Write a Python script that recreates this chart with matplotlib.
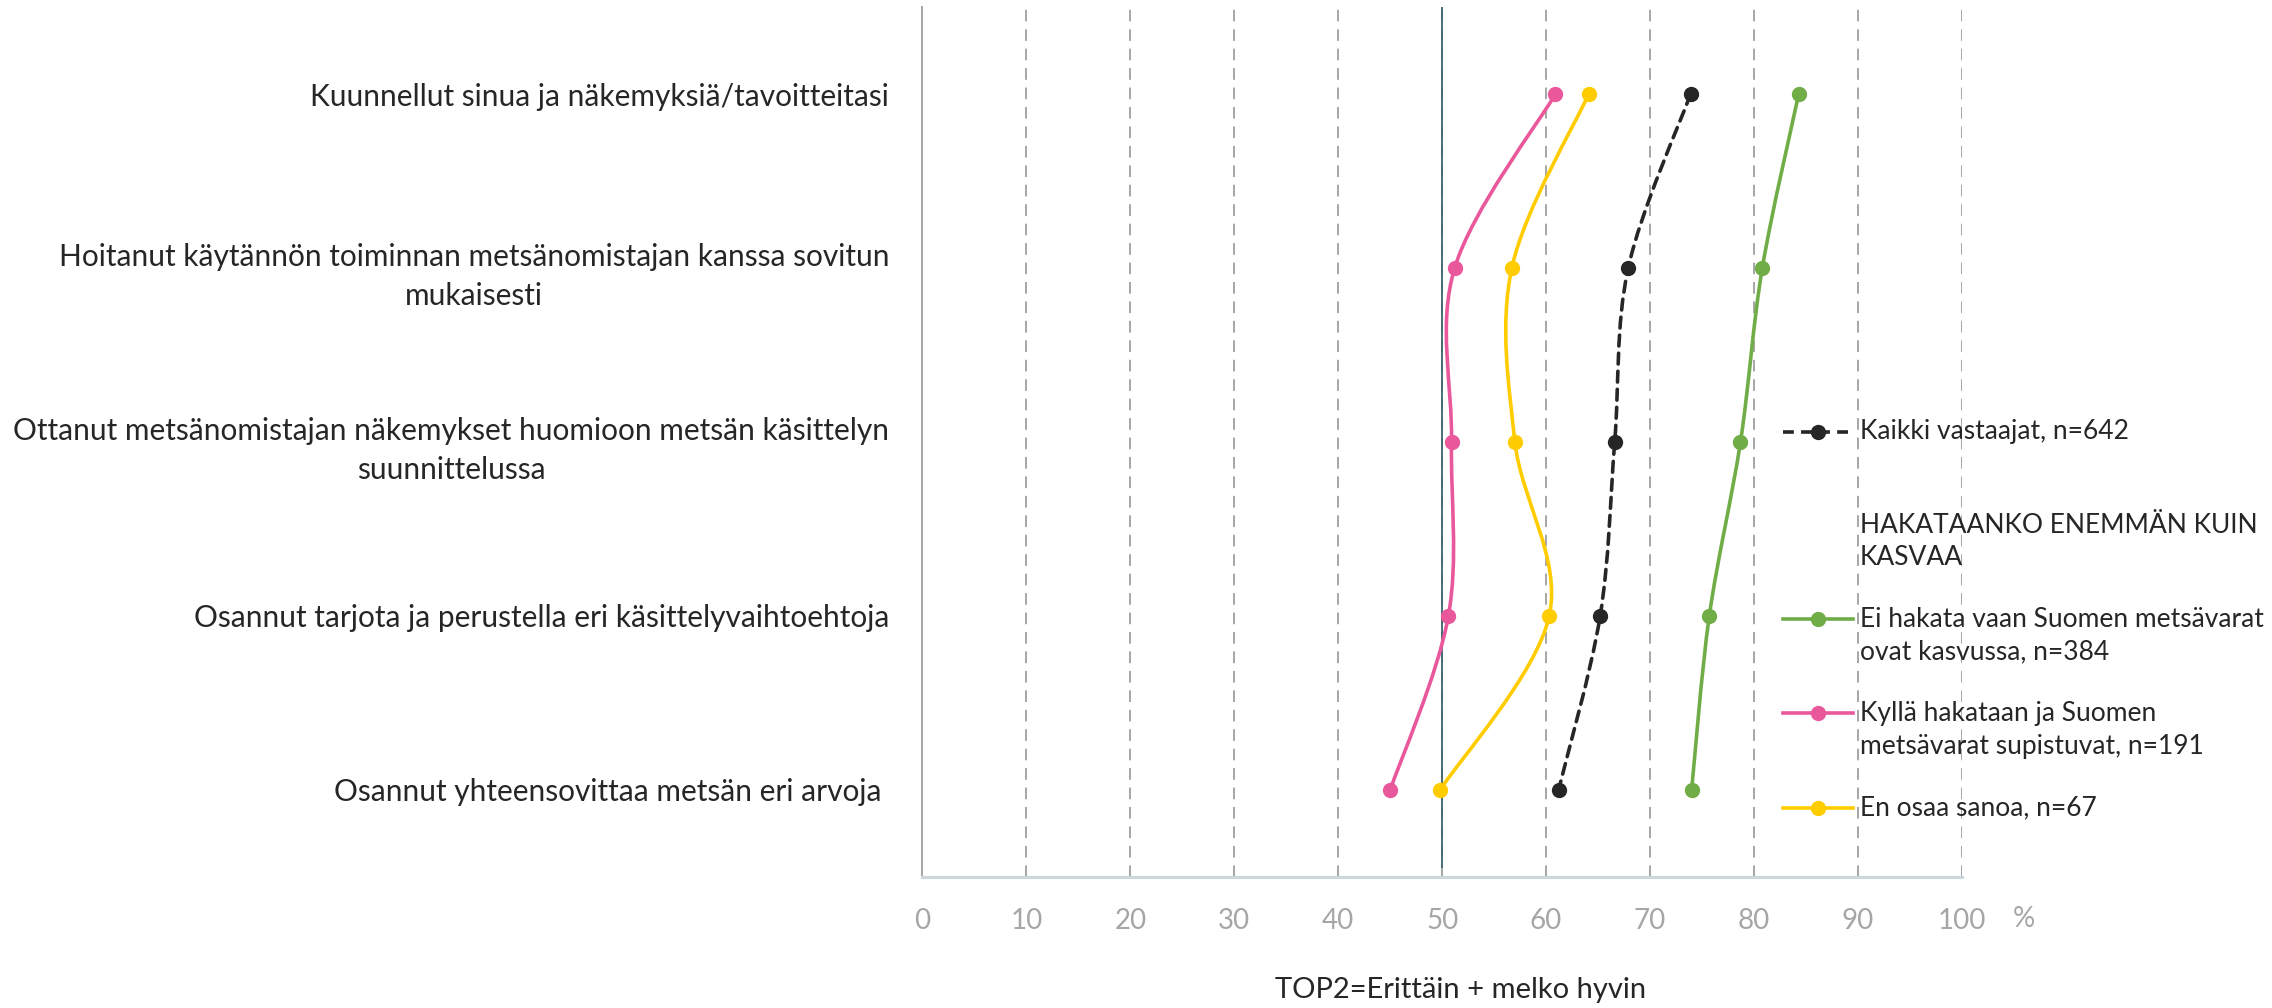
import numpy as np
import matplotlib
matplotlib.use("Agg")
import matplotlib.pyplot as plt
from matplotlib.path import Path
from matplotlib.patches import PathPatch
from matplotlib.lines import Line2D

plt.rcParams['font.family'] = ['Lato', 'DejaVu Sans']

categories = [
    "Kuunnellut sinua ja näkemyksiä/tavoitteitasi",
    "Hoitanut käytännön toiminnan metsänomistajan kanssa sovitun\nmukaisesti",
    "Ottanut metsänomistajan näkemykset huomioon metsän käsittelyn\nsuunnittelussa",
    "Osannut tarjota ja perustella eri käsittelyvaihtoehtoja",
    "Osannut yhteensovittaa metsän eri arvoja ",
]
kaikki = [73.9, 67.9, 66.6, 65.2, 61.2]
ei_hakata = [84.3, 80.8, 78.7, 75.7, 74.0]
kylla_hakataan = [60.9, 51.2, 50.9, 50.6, 45.0]
en_osaa = [64.1, 56.7, 57.0, 60.3, 49.8]

series_names = ["Kaikki vastaajat, n=642",
                "Ei hakata vaan Suomen metsävarat\novat kasvussa, n=384",
                "Kyllä hakataan ja Suomen\nmetsävarat supistuvat, n=191",
                "En osaa sanoa, n=67"]
group_title = "HAKATAANKO ENEMMÄN KUIN\nKASVAA"
xticks = list(range(0, 101, 10))

c_black = "#262626"
c_green = "#70ad47"
c_pink = "#ea589c"
c_yellow = "#ffcc00"


def smooth_path(xs, ys):
    # Excel-style smoothed line: Catmull-Rom converted to cubic Bezier
    pts = np.column_stack([xs, ys])
    verts = [pts[0]]
    codes = [Path.MOVETO]
    n = len(pts)
    for i in range(n - 1):
        p0 = pts[max(i - 1, 0)]
        p1 = pts[i]
        p2 = pts[i + 1]
        p3 = pts[min(i + 2, n - 1)]
        verts += [p1 + (p2 - p0) / 6, p2 - (p3 - p1) / 6, p2]
        codes += [Path.CURVE4] * 3
    return Path(verts, codes)


fig = plt.figure(figsize=(22.72, 10.08), dpi=100)
ax = fig.add_axes([0.406, 0.13, 0.4575, 0.863])

ypos = np.arange(len(categories)) + 0.5

for v in xticks[1:]:
    ax.axvline(v, color="#a6a6a6", lw=1.4, ls=(0, (6, 4)), zorder=0)
ax.axvline(50, ymin=0.012, color="#3d6571", lw=1.3, zorder=1)

lw = 2.6
data = [(kaikki, c_black, (0, (3, 2))), (ei_hakata, c_green, '-'),
        (kylla_hakataan, c_pink, '-'), (en_osaa, c_yellow, '-')]
for vals, col, ls in data:
    patch = PathPatch(smooth_path(vals, ypos), facecolor='none', edgecolor=col,
                      lw=lw, ls=ls, zorder=3, capstyle='round')
    ax.add_patch(patch)
    ax.plot(vals, ypos, ls='none', marker='o', ms=10, color=col, zorder=4)

ax.set_xlim(0, 100)
ax.set_ylim(len(categories), 0)
ax.set_xticks(xticks)
ax.set_yticks(ypos)
ax.set_yticklabels(categories, fontsize=21.5, color="#262626")
for lbl in ax.get_yticklabels():
    lbl.set_multialignment('center')
    lbl.set_linespacing(1.5)
ax.tick_params(axis='y', length=0, pad=24)
ax.tick_params(axis='x', length=0, pad=22, labelsize=20, labelcolor="#a6a6a6")

for s in ['top', 'right']:
    ax.spines[s].set_visible(False)
ax.spines['left'].set_color("#a6a6a6")
ax.spines['left'].set_linewidth(1.4)
ax.spines['bottom'].set_color("#ccd6dd")
ax.spines['bottom'].set_linewidth(2.2)

fig.text(0.891, 0.088, "%", fontsize=20, color="#a6a6a6", ha='center', va='center')
fig.text(0.643, 0.018, "TOP2=Erittäin + melko hyvin", fontsize=21, color="#262626",
         ha='center', va='center')

# legend, drawn by hand so the handles sit on the first text line
hx0, hx1, tx = 0.7846, 0.8154, 0.8187
line_step = 0.0324
entries = [
    (0.5717, series_names[0], c_black, (0, (3, 2))),
    (0.479, group_title, None, None),
    (0.3856, series_names[1], c_green, '-'),
    (0.2923, series_names[2], c_pink, '-'),
    (0.1987, series_names[3], c_yellow, '-'),
]
for y, txt, col, ls in entries:
    if col is not None:
        fig.add_artist(Line2D([hx0, hx1], [y, y], color=col, lw=lw, ls=ls,
                              transform=fig.transFigure))
        fig.add_artist(Line2D([0.800], [y], color=col, marker='o', ms=10,
                              transform=fig.transFigure))
    for k, part in enumerate(txt.split("\n")):
        fig.text(tx, y - k * line_step, part, fontsize=19, color="#262626",
                 ha='left', va='center')

fig.savefig("out.png", dpi=100)
